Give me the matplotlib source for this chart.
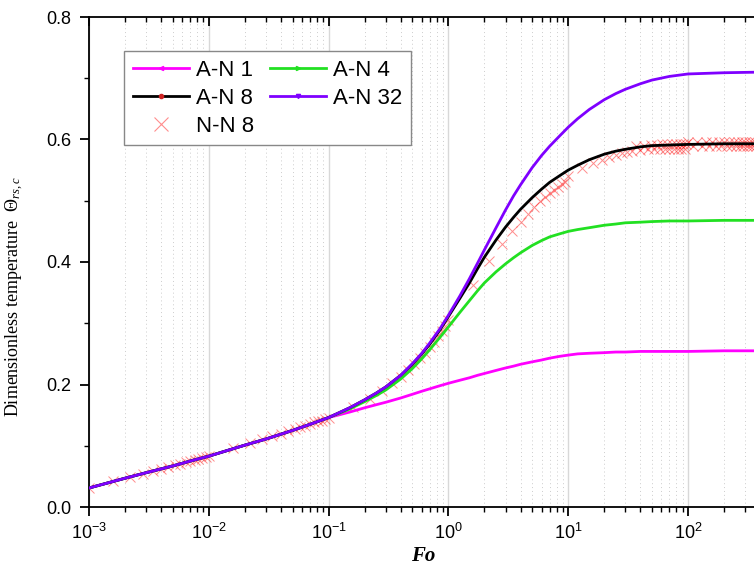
import matplotlib
matplotlib.use("Agg")
import matplotlib.pyplot as plt
from matplotlib.lines import Line2D
from matplotlib.ticker import LogLocator, MultipleLocator, NullFormatter, FormatStrFormatter

plt.rcParams["font.family"] = ["Liberation Sans", "DejaVu Sans"]
plt.rcParams["mathtext.fontset"] = "custom"
plt.rcParams["mathtext.rm"] = "Liberation Serif"
plt.rcParams["mathtext.it"] = "Liberation Serif:italic"
plt.rcParams["mathtext.bf"] = "Liberation Serif:bold"

# analytical curves (A-N)
fo_line = [1e-3, 2e-3, 3e-3, 5e-3, 7e-3, 1e-2, 2e-2, 3e-2, 5e-2, 7e-2, 0.1,
           0.15, 0.2, 0.25, 0.3, 0.4, 0.5, 0.6, 0.7, 0.85, 1, 1.25, 1.5, 1.75,
           2, 2.5, 3, 3.5, 4, 5, 6, 7, 8.5, 10, 12, 15, 20, 25, 30, 40, 50, 70,
           100, 200, 400]
common = [0.031, 0.047, 0.056, 0.067, 0.075, 0.083, 0.101, 0.111, 0.125, 0.135, 0.146]
an1 = common + [0.155, 0.162, 0.167, 0.171, 0.178, 0.184, 0.189, 0.193, 0.198, 0.202,
                0.207, 0.211, 0.215, 0.218, 0.223, 0.227, 0.230, 0.233, 0.237, 0.240,
                0.243, 0.246, 0.248, 0.250, 0.251, 0.252, 0.253, 0.253, 0.254, 0.254,
                0.254, 0.254, 0.255, 0.255]
an4 = common + [0.160, 0.172, 0.182, 0.191, 0.209, 0.226, 0.242, 0.257, 0.277, 0.294,
                0.318, 0.337, 0.353, 0.366, 0.384, 0.397, 0.407, 0.415, 0.427, 0.435,
                0.441, 0.446, 0.450, 0.453, 0.456, 0.460, 0.462, 0.464, 0.465, 0.466,
                0.467, 0.467, 0.468, 0.468]
an8 = common + [0.162, 0.175, 0.186, 0.196, 0.215, 0.233, 0.250, 0.266, 0.289, 0.311,
                0.341, 0.366, 0.389, 0.408, 0.436, 0.457, 0.473, 0.486, 0.505, 0.519,
                0.530, 0.541, 0.550, 0.558, 0.567, 0.576, 0.581, 0.584, 0.588, 0.590,
                0.591, 0.592, 0.593, 0.593]
an32 = common + [0.162, 0.175, 0.186, 0.196, 0.215, 0.234, 0.251, 0.268, 0.291, 0.313,
                 0.345, 0.373, 0.398, 0.420, 0.456, 0.485, 0.508, 0.526, 0.554, 0.574,
                 0.589, 0.606, 0.620, 0.634, 0.649, 0.665, 0.675, 0.682, 0.691, 0.697,
                 0.703, 0.707, 0.709, 0.710]

# numerical results (N-N 8)
nn_fo = [0.001, 0.0016, 0.0022, 0.0028, 0.0034, 0.004, 0.0046, 0.0052, 0.0058, 0.0064,
         0.007, 0.0076, 0.0082, 0.0088, 0.0094,
         0.01, 0.016, 0.022, 0.028, 0.034, 0.04, 0.046, 0.052, 0.058, 0.064,
         0.07, 0.076, 0.082, 0.088, 0.094,
         0.1, 0.16, 0.22, 0.28, 0.34, 0.4, 0.46, 0.52, 0.58, 0.64,
         0.7, 0.76, 0.82, 0.88, 0.94,
         1.0, 1.6, 2.2, 2.8, 3.4, 4.0, 4.6, 5.2, 5.8, 6.4,
         7.0, 7.6, 8.2, 8.8, 9.4,
         10, 13, 16, 19, 22, 25, 28, 31, 34, 37, 40, 43, 46, 49, 52, 55,
         58, 61, 64, 67, 70, 73, 76, 79, 82, 85, 88, 91, 94, 97,
         100, 110, 120, 130, 140, 150, 160, 170, 180, 190, 200, 210, 220, 230,
         240, 250, 260, 270, 280, 290, 300, 310, 320, 330, 340, 350, 360, 370]
nn8 = [0.031, 0.042, 0.049, 0.054, 0.059, 0.062, 0.065, 0.068, 0.071, 0.073,
       0.075, 0.077, 0.078, 0.080, 0.082,
       0.083, 0.096, 0.104, 0.111, 0.116, 0.120, 0.124, 0.127, 0.130, 0.133,
       0.135, 0.138, 0.140, 0.141, 0.143,
       0.146, 0.163, 0.177, 0.190, 0.202, 0.213, 0.223, 0.233, 0.243, 0.252,
       0.261, 0.270, 0.279, 0.287, 0.295,
       0.305, 0.363, 0.402, 0.430, 0.450, 0.466, 0.479, 0.490, 0.499, 0.506,
       0.512, 0.518, 0.523, 0.527, 0.531,
       0.541, 0.553, 0.561, 0.567, 0.571, 0.575, 0.578, 0.580, 0.582, 0.589,
       0.583, 0.590, 0.584, 0.591, 0.584, 0.591, 0.585, 0.592, 0.585, 0.592,
       0.585, 0.592, 0.585, 0.592, 0.585, 0.592, 0.585, 0.592, 0.585, 0.592,
       0.596, 0.589, 0.596, 0.589, 0.596, 0.589, 0.596, 0.589, 0.596, 0.589,
       0.596, 0.589, 0.596, 0.589, 0.596, 0.589, 0.596, 0.589, 0.596, 0.589,
       0.596, 0.589, 0.596, 0.589, 0.596, 0.589, 0.596, 0.589]

series = [("A-N 1", an1, "#ff00ff", "<"), ("A-N 4", an4, "#22e022", ">"),
          ("A-N 8", an8, "black", "o"), ("A-N 32", an32, "#7f00ff", "v")]

fig = plt.figure(figsize=(7.54, 5.70), dpi=100)
ax = fig.add_axes([89 / 754, 63 / 570, 668 / 754, 490 / 570])

ax.plot(nn_fo, nn8, linestyle="none", marker="x", color="red", alpha=0.45,
        markersize=7, markeredgewidth=0.7, zorder=2)
for name, vals, col, mk in series:
    ax.plot(fo_line, vals, color=col, lw=2.0, zorder=3)

ax.set_xscale("log")
ax.set_xlim(1e-3, 10 ** 2.576)
ax.set_ylim(0, 0.8)
ax.yaxis.set_major_locator(MultipleLocator(0.2))
ax.yaxis.set_minor_locator(MultipleLocator(0.1))
ax.xaxis.set_major_locator(LogLocator(base=10, numticks=20))
ax.xaxis.set_minor_locator(LogLocator(base=10, subs=range(2, 10), numticks=20))
ax.xaxis.set_minor_formatter(NullFormatter())
ax.yaxis.set_major_formatter(FormatStrFormatter("%.1f"))

ax.grid(True, which="major", axis="x", color="#d8d8d8", lw=1.0, zorder=0)
ax.grid(True, which="minor", axis="x", color="#cccccc", lw=0.7, ls=(0, (1, 3)), zorder=0)

for s in ax.spines.values():
    s.set_linewidth(1.3)
ax.tick_params(which="major", direction="out", length=6.5, width=1.3, labelsize=13)
ax.tick_params(which="minor", direction="out", length=3.5, width=1.0)
ax.tick_params(axis="x", which="both", top=True)
ax.tick_params(axis="y", which="major", right=True, pad=6)
ax.tick_params(axis="x", which="major", pad=5)
# ticks on the top and right sides point inward
for t in ax.xaxis.get_major_ticks() + ax.xaxis.get_minor_ticks():
    t.tick2line.set_marker(3)
for t in ax.yaxis.get_major_ticks():
    t.tick2line.set_marker(1)

ax.set_xlabel("Fo", fontfamily="Liberation Serif", fontsize=15,
              fontweight="bold", fontstyle="italic", labelpad=2)
ax.set_ylabel(r"Dimensionless temperature  $\Theta_{rs,c}$",
              fontfamily="Liberation Serif", fontsize=13)
ax.yaxis.set_label_coords(-0.094, 0.43)

handles = [Line2D([], [], color=col, lw=2.0, marker=mk, markersize=3,
                  markerfacecolor=("#cc2222" if name == "A-N 8" else col),
                  markeredgecolor=("#cc2222" if name == "A-N 8" else col))
           for name, vals, col, mk in series]
handles.append(Line2D([], [], linestyle="none", marker="x", color="red",
                      alpha=0.45, markersize=10, markeredgewidth=0.8))
labels = ["A-N 1", "A-N 8", "N-N 8", "A-N 4", "A-N 32"]
order = [handles[0], handles[2], handles[4], handles[1], handles[3]]
leg = ax.legend(order, labels, ncol=2, loc="upper left",
                bbox_to_anchor=(0.053, 0.93), borderaxespad=0,
                fontsize=16, handlelength=2.5, handletextpad=0.3,
                columnspacing=0.75, labelspacing=0.3, fancybox=False,
                edgecolor="#888888", framealpha=1, borderpad=0.4)
leg.get_frame().set_linewidth(1.0)

fig.savefig("out.png", dpi=100)
